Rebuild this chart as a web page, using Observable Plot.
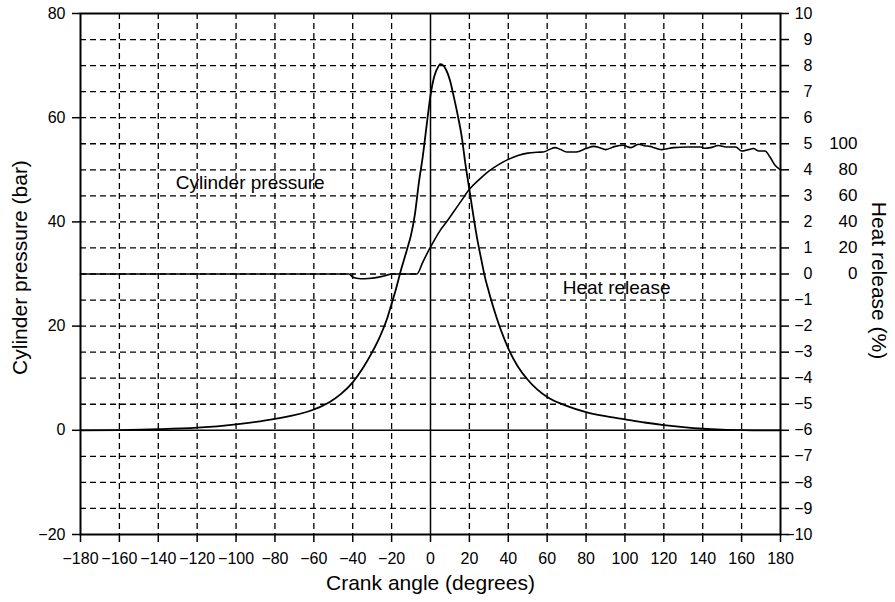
<!DOCTYPE html>
<html><head><meta charset="utf-8">
<script src="https://cdn.jsdelivr.net/npm/d3@7"></script>
<script src="https://cdn.jsdelivr.net/npm/@observablehq/plot@0.6"></script>
<style>body{margin:0;background:#fff} svg{display:block}</style>
</head><body><div id="chart"></div>
<script>
// Cylinder pressure (bar) vs crank angle (degrees)
const pressureAngle = [-180,-160,-140,-120,-100,-80,-60,-52,-46,-40,-35,-30,-26,-22,-20,-18,-15,-12,-10,-8,-6,-4,-2,0,2,4,5,6,8,10,12,14,16,18,20,22,24,26,28,30,32,35,38,41,45,50,55,60,70,80,90,100,110,120,130,140,150,160,170,180];
const pressureBar = [0,0.05,0.2,0.5,1.15,2.2,4.0,5.4,7.0,9.2,11.8,15.0,18.0,21.8,24.3,26.8,31.0,34.8,37.5,41.5,47.5,52.5,58.5,64.3,68.0,69.8,70.3,70.2,69.2,67.2,64.0,60.5,56.5,51.0,46.2,41.3,36.8,33.0,29.4,26.6,24.0,20.5,17.5,14.9,12.2,9.7,7.8,6.4,4.7,3.5,2.7,2.1,1.5,1.0,0.6,0.3,0.12,0.03,0,0];

// Heat release (%) vs crank angle (degrees)
const heatAngle = [-180,-60,-42,-40,-38,-36,-32,-28,-24,-21,-20,-7,-4,-1,0,2,5,8,12,16,20,25,30,35,40,45,50,55,58,61,64,67,70,75,80,84,87,90,95,99,103,107,110,113,116,119,125,132,139,141,144,148,152,157,160,163.5,166,169,172,174.6,177.2,180];
const heatPct = [0,0,0,-2.3,-3.3,-3.6,-3.4,-2.8,-1.6,-0.3,0,0,8.9,18,20.7,26,33.5,39.5,48,56.5,65,72.5,79,84,88,91,92.8,93.5,93.7,95.5,97,95.5,93.7,93.7,96.3,98,97,95.5,98,98.8,97,99.6,98.5,98,96.5,95.5,97,97.5,97.5,96.5,97,98.6,97.5,97.5,94.4,95.5,96.3,94.4,94.4,89.8,83.4,80];

// Axis ticks
const xTicks = [-180,-160,-140,-120,-100,-80,-60,-40,-20,0,20,40,60,80,100,120,140,160,180];
const leftTicks = [-20,0,20,40,60,80];
const rightTicks = [-10,-9,-8,-7,-6,-5,-4,-3,-2,-1,0,1,2,3,4,5,6,7,8,9,10];
const pctTicks = [0,20,40,60,80,100];

const rightToBar = r => 30 + 5 * r;
const pctToBar = p => 30 + p / 4;
const fmt = d3.format("d");

const gridX = xTicks.filter(v => v !== 0 && Math.abs(v) !== 180);
const gridY = rightTicks.map(rightToBar).filter(v => v !== 0 && v !== -20 && v !== 80);

const pressure = pressureAngle.map((a, i) => ({angle: a, p: pressureBar[i]}));
const heat = heatAngle.map((a, i) => ({angle: a, p: pctToBar(heatPct[i])}));

const chart = Plot.plot({
  width: 895, height: 602,
  marginLeft: 80, marginRight: 115, marginTop: 13, marginBottom: 68,
  style: {fontFamily: "'Liberation Sans', Arial, sans-serif", fontSize: "16px", color: "#000", background: "#fff"},
  x: {domain: [-180, 180]},
  y: {domain: [-20, 80]},
  marks: [
    Plot.ruleX(gridX, {stroke: "#000", strokeWidth: 1.3, strokeDasharray: "6,4"}),
    Plot.ruleY(gridY, {stroke: "#000", strokeWidth: 1.3, strokeDasharray: "6,4"}),
    Plot.ruleX([0], {stroke: "#000", strokeWidth: 1.5}),
    Plot.ruleY([0], {stroke: "#000", strokeWidth: 1.5}),
    Plot.line(pressure, {x: "angle", y: "p", stroke: "#000", strokeWidth: 1.8, curve: "monotone-x"}),
    Plot.line(heat, {x: "angle", y: "p", stroke: "#000", strokeWidth: 1.6, curve: "monotone-x"}),
    Plot.frame({stroke: "#000", strokeWidth: 2}),
    Plot.axisX({ticks: xTicks, tickSize: 8, tickPadding: 10, tickFormat: fmt, label: null, strokeWidth: 1.5}),
    Plot.axisY({anchor: "left", ticks: leftTicks, tickSize: 8, tickPadding: 7, tickFormat: fmt, label: null, strokeWidth: 1.5}),
    Plot.axisY({anchor: "right", ticks: rightTicks.map(rightToBar), tickSize: 8, tickPadding: 24, textAnchor: "end",
      tickFormat: p => fmt(Math.round((p - 30) / 5)), label: null, strokeWidth: 1.5}),
    Plot.axisY({anchor: "right", ticks: pctTicks.map(pctToBar), tickSize: 0, tickPadding: 77, textAnchor: "end",
      tickFormat: p => fmt(Math.round((p - 30) * 4)), label: null, fontSize: 17}),
    Plot.text(["Crank angle (degrees)"], {frameAnchor: "bottom", dy: 49, text: d => d, textAnchor: "middle", lineAnchor: "middle", fontSize: 21}),
    Plot.text(["Cylinder pressure (bar)"], {frameAnchor: "left", dx: -60, dy: -6.5, rotate: -90, text: d => d, textAnchor: "middle", lineAnchor: "middle", fontSize: 21}),
    Plot.text(["Heat release (%)"], {frameAnchor: "right", dx: 98, dy: 6.5, rotate: 90, text: d => d, textAnchor: "middle", lineAnchor: "middle", fontSize: 21}),
    Plot.text(["Cylinder pressure"], {x: () => -131, y: () => 47.4, text: d => d, textAnchor: "start", fontSize: 19}),
    Plot.text(["Heat release"], {x: () => 68, y: () => 27.4, text: d => d, textAnchor: "start", fontSize: 19})
  ]
});
document.getElementById("chart").append(chart);
</script>
</body></html>
